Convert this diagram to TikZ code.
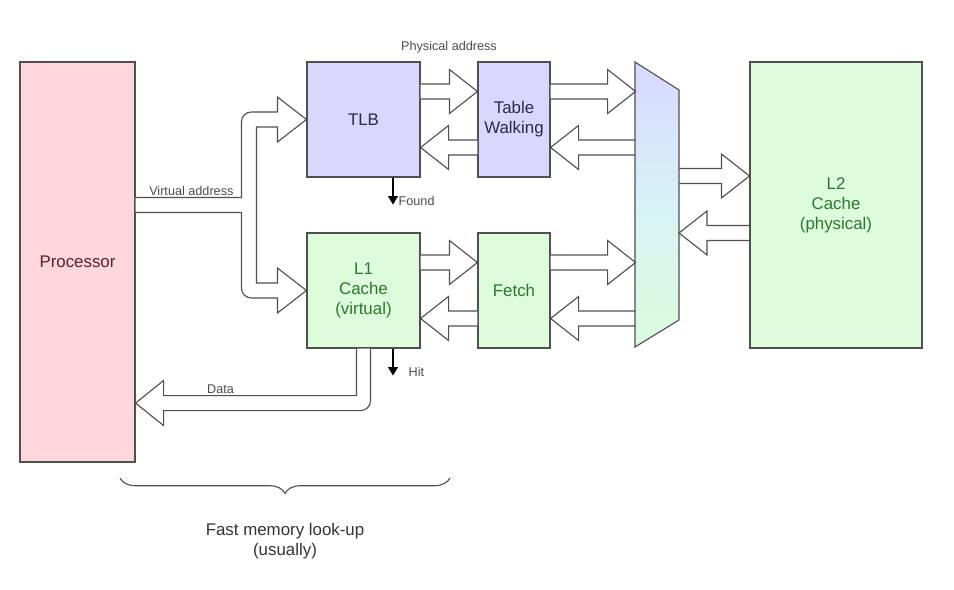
\documentclass[tikz,border=0pt]{standalone}
\usepackage{fontspec}
\setmainfont{Liberation Sans}
\usetikzlibrary{positioning, calc, arrows.meta, decorations.pathreplacing}
\definecolor{ProcFill}{RGB}{255, 214, 220}
\definecolor{ProcText}{RGB}{92, 32, 44}
\definecolor{TlbFill}{RGB}{216, 216, 255}
\definecolor{TlbText}{RGB}{40, 40, 80}
\definecolor{CacheFill}{RGB}{220, 252, 220}
\definecolor{CacheText}{RGB}{44, 120, 44}
\definecolor{MuxMid}{RGB}{214, 242, 246}
\definecolor{EdgeGray}{RGB}{80, 80, 80}

\tikzset{
    unit/.style={draw=EdgeGray, thick, minimum width=#1, align=center, font=\fontsize{12}{14.2}\selectfont},
    procbox/.style={unit=115*0.025cm, fill=ProcFill, text=ProcText, minimum height=400*0.025cm},
    tlbbox/.style={unit=#1, fill=TlbFill, text=TlbText, minimum height=115*0.025cm},
    cachebox/.style={unit=#1, fill=CacheFill, text=CacheText, minimum height=115*0.025cm},
    fatline/.style={draw=EdgeGray, fill=white, thick},
    tag/.style={font=\fontsize{9}{10}\selectfont, text=black!70, inner sep=1pt}
}

% hollow arrow: start, tip, head offset (-28 right, 28 left)
\newcommand{\fatarrow}[3]{%
    \draw[fatline] ($#1+(0,-7.5)$) -- ($#2+(#3,-7.5)$) -- ($#2+(#3,-22)$) -- #2
        -- ($#2+(#3,22)$) -- ($#2+(#3,7.5)$) -- ($#1+(0,7.5)$);
}

\begin{document}
\begin{tikzpicture}[x=0.025cm, y=-0.025cm]
    \useasboundingbox (0,0) rectangle (954,590);

    % blocks
    \node[procbox] (proc) at (77.5,262) {Processor};
    \node[tlbbox=113*0.025cm] (tlb) at (363.5,119.5) {TLB};
    \node[tlbbox=72*0.025cm] (tw) at (514,119.5) {Table\\Walking};
    \node[cachebox=113*0.025cm] (l1) at (363.5,290.5) {L1\\Cache\\(virtual)};
    \node[cachebox=72*0.025cm] (fetch) at (514,290.5) {Fetch};
    \node[unit=172*0.025cm, fill=CacheFill, text=CacheText, minimum height=286*0.025cm] (l2) at (836,205) {L2\\Cache\\(physical)};

    % multiplexer
    \shade[top color=TlbFill, bottom color=CacheFill, middle color=MuxMid]
        (635,62) -- (679,90) -- (679,320) -- (635,347) -- cycle;
    \coordinate (muxL) at (635,205);
    \coordinate (muxR) at (679,205);

    % physical side
    \fatarrow{($(tlb.east)+(0,-28)$)}{($(tw.west)+(0,-28)$)}{-28}
    \fatarrow{($(tw.west)+(0,28)$)}{($(tlb.east)+(0,28)$)}{28}
    \fatarrow{($(tw.east)+(0,-28)$)}{($(tw.east)+(85,-28)$)}{-28}
    \fatarrow{($(tw.east)+(85,28)$)}{($(tw.east)+(0,28)$)}{28}
    \fatarrow{($(l1.east)+(0,-28)$)}{($(fetch.west)+(0,-28)$)}{-28}
    \fatarrow{($(fetch.west)+(0,28)$)}{($(l1.east)+(0,28)$)}{28}
    \fatarrow{($(fetch.east)+(0,-28)$)}{($(fetch.east)+(85,-28)$)}{-28}
    \fatarrow{($(fetch.east)+(85,28)$)}{($(fetch.east)+(0,28)$)}{28}
    \fatarrow{($(muxR)+(0,-29)$)}{($(l2.west)+(0,-29)$)}{-28}
    \fatarrow{($(l2.west)+(0,28)$)}{($(muxR)+(0,28)$)}{28}
    \draw[EdgeGray, thick] (635,62) -- (679,90) -- (679,320) -- (635,347) -- cycle;
    \draw[EdgeGray, thick] (l2.north west) -- (l2.south west);

    \node[tag] at ($(tlb.north east)!0.5!(tw.north west)+(0,-14)$) {Physical address};

    % virtual address
    \coordinate (va) at ($(tlb.west)!0.5!(l1.west)$);
    \draw[fatline] ($(proc.east |- va)+(0,-7.5)$) -- ($(va)+(-65,-7.5)$)
        [rounded corners=7] -- ($(tlb.west)+(-65,-7.5)$) [sharp corners] -- ($(tlb.west)+(-29,-7.5)$)
        -- ($(tlb.west)+(-29,-22.5)$) -- (tlb.west) -- ($(tlb.west)+(-29,22.5)$)
        -- ($(tlb.west)+(-29,7.5)$) -- ($(tlb.west)+(-50,7.5)$) -- ($(l1.west)+(-50,-7.5)$)
        -- ($(l1.west)+(-29,-7.5)$) -- ($(l1.west)+(-29,-22.5)$) -- (l1.west)
        -- ($(l1.west)+(-29,22.5)$) -- ($(l1.west)+(-29,7.5)$)
        [rounded corners=7] -- ($(l1.west)+(-65,7.5)$) [sharp corners] -- ($(va)+(-65,7.5)$)
        -- ($(proc.east |- va)+(0,7.5)$);
    \node[tag, above right] at ($(proc.east |- va)+(12,-7.5)$) {Virtual address};

    % data back to processor
    \coordinate (dt) at ($(l1.south)+(0,54.5)$);
    \draw[fatline] ($(l1.south)+(-7,0)$) -- ($(l1.south)+(-7,47)$)
        -- ($(proc.east |- dt)+(28,-7.5)$) -- ($(proc.east |- dt)+(28,-22.5)$)
        -- (proc.east |- dt) -- ($(proc.east |- dt)+(28,22.5)$) -- ($(proc.east |- dt)+(28,7.5)$)
        [rounded corners=7] -- ($(l1.south)+(7,62)$) [sharp corners] -- ($(l1.south)+(7,0)$);
    \node[tag, above] at ($(proc.east |- dt)+(85,-7.5)$) {Data};

    % found / hit
    \draw[thick, -{Triangle[width=7pt, length=6pt]}] ($(tlb.south)+(29.5,0)$) -- ++(0,27) coordinate (found);
    \node[tag, right] at ($(found)+(4,-4)$) {Found};
    \draw[thick, -{Triangle[width=7pt, length=6pt]}] ($(l1.south)+(29.5,0)$) -- ++(0,27) coordinate (hit);
    \node[tag, right] at ($(hit)+(14,-4)$) {Hit};

    % brace
    \draw[EdgeGray, thick, decorate, decoration={brace, mirror, amplitude=11pt}] (120,478) -- (450,478) coordinate[midway] (bm);
    \node[font=\fontsize{12}{14.5}\selectfont, text=black!80, align=center] at ($(bm)+(0,63)$) {Fast memory look-up\\(usually)};
\end{tikzpicture}
\end{document}
